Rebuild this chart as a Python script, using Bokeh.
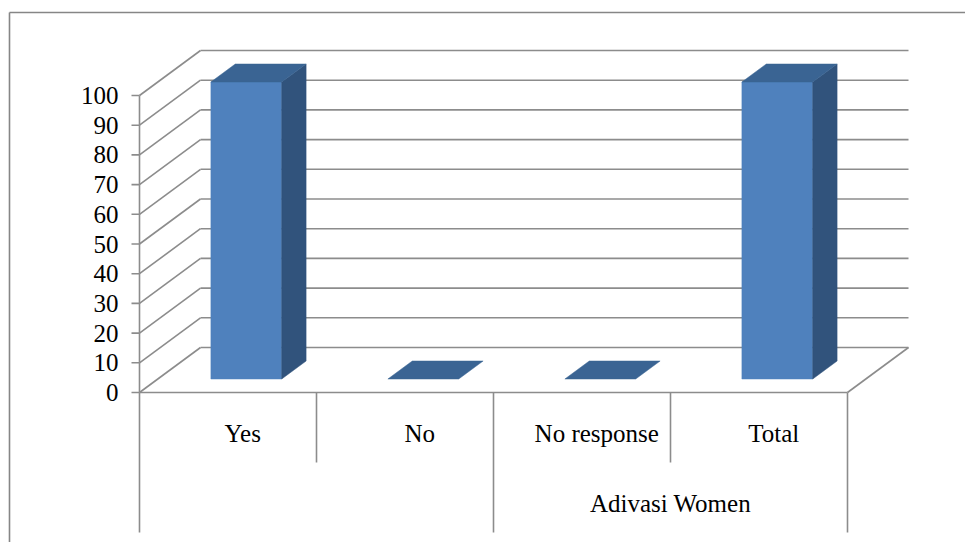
from bokeh.plotting import figure
from bokeh.models import Range1d
from bokeh.core.properties import value
from bokeh.embed import file_html
from bokeh.resources import INLINE

# ---------------- data ----------------
categories = ["Yes", "No", "No response", "Total"]
values = [100, 0, 0, 100]
group_labels = ["", "Adivasi Women"]
group_sizes = [2, 2]
y_ticks = [0, 10, 20, 30, 40, 50, 60, 70, 80, 90, 100]
y_max = 100

# ---------------- layout (pixels of the 965x542 page) ----------------
W, H = 965, 542
FRONT_LEFT_PX, FRONT_RIGHT_PX = 139, 847
ZERO_PX, TOP_PX = 392, 95
DEPTH_DX_PX, DEPTH_DY_PX = 61, 45
n = len(categories)
sx = (FRONT_RIGHT_PX - FRONT_LEFT_PX) / n      # px per category
sy = (ZERO_PX - TOP_PX) / y_max                # px per value unit


def ux(px):
    return (px - FRONT_LEFT_PX) / sx


def uy(py):
    return (ZERO_PX - py) / sy


DX = DEPTH_DX_PX / sx
DY = DEPTH_DY_PX / sy
BAR_W = 0.4
D0, D1 = 0.3, 0.7

GRID = "#8C8C8C"
FRONT = "#4F81BD"
SIDE = "#31537C"
TOP = "#3A6493"
FONT = value("Liberation Serif")
FS = "25px"

p = figure(width=W, height=H, x_range=Range1d(ux(0), ux(W)), y_range=Range1d(uy(H), uy(0)),
           x_axis_type=None, y_axis_type=None, toolbar_location=None,
           output_backend="svg", min_border=0, outline_line_color=None)
p.grid.visible = False
p.background_fill_color = "white"
p.border_fill_color = "white"

# chart border
p.multi_line(xs=[[ux(9), ux(W + 5)], [ux(9), ux(9)]],
             ys=[[uy(12), uy(12)], [uy(12), uy(H + 5)]],
             line_color="#868686", line_width=1.6)

# back wall gridlines
p.multi_line(xs=[[DX, n + DX] for t in y_ticks],
             ys=[[t + DY, t + DY] for t in y_ticks],
             line_color=GRID, line_width=1.6)
# side wall diagonals
p.multi_line(xs=[[0, DX] for t in y_ticks],
             ys=[[t, t + DY] for t in y_ticks],
             line_color=GRID, line_width=1.6)
# floor front and right edges
p.multi_line(xs=[[0, n], [n, n + DX]], ys=[[0, 0], [0, DY]],
             line_color=GRID, line_width=1.6)
# value axis line and ticks
p.segment(x0=[0], y0=[0], x1=[0], y1=[y_max], line_color=GRID, line_width=1.6)
tick_len = 8 / sx
p.segment(x0=[-tick_len] * len(y_ticks), y0=y_ticks, x1=[0] * len(y_ticks), y1=y_ticks,
          line_color=GRID, line_width=1.6)
p.text(x=[-21 / sx] * len(y_ticks), y=y_ticks, text=[str(t) for t in y_ticks],
       text_font=FONT, text_font_size=FS, text_align="right",
       text_baseline="middle", text_color="black")

# category separators (multi-level axis)
group_edges = [0]
for g in group_sizes:
    group_edges.append(group_edges[-1] + g)
short_y = uy(462)
long_y = uy(532)
sep_x, sep_y1 = [], []
for i in range(n + 1):
    sep_x.append(i)
    sep_y1.append(long_y if i in group_edges else short_y)
p.segment(x0=sep_x, y0=[0] * len(sep_x), x1=sep_x, y1=sep_y1, line_color=GRID, line_width=1.6)

# category labels
p.text(x=[i + 0.5 + D0 * DX - 0.02 for i in range(n)], y=[uy(433)] * n, text=categories,
       text_font=FONT, text_font_size=FS, text_align="center",
       text_baseline="middle", text_color="black")
# group labels
p.text(x=[(group_edges[k] + group_edges[k + 1]) / 2 for k in range(len(group_labels))],
       y=[uy(503)] * len(group_labels), text=group_labels,
       text_font=FONT, text_font_size=FS, text_align="center",
       text_baseline="middle", text_color="black")

# 3D bars
xs, ys, cols = [], [], []
for i, v in enumerate(values):
    x0 = i + 0.5 - BAR_W / 2
    x1 = i + 0.5 + BAR_W / 2
    if v > 0:
        xs.append([x0 + D0 * DX, x1 + D0 * DX, x1 + D0 * DX, x0 + D0 * DX])
        ys.append([D0 * DY, D0 * DY, v + D0 * DY, v + D0 * DY])
        cols.append(FRONT)
        xs.append([x1 + D0 * DX, x1 + D1 * DX, x1 + D1 * DX, x1 + D0 * DX])
        ys.append([D0 * DY, D1 * DY, v + D1 * DY, v + D0 * DY])
        cols.append(SIDE)
    xs.append([x0 + D0 * DX, x1 + D0 * DX, x1 + D1 * DX, x0 + D1 * DX])
    ys.append([v + D0 * DY, v + D0 * DY, v + D1 * DY, v + D1 * DY])
    cols.append(TOP)
p.patches(xs=xs, ys=ys, fill_color=cols, line_color=cols, line_width=0.5)

open("out.html", "w").write(file_html(p, INLINE))
